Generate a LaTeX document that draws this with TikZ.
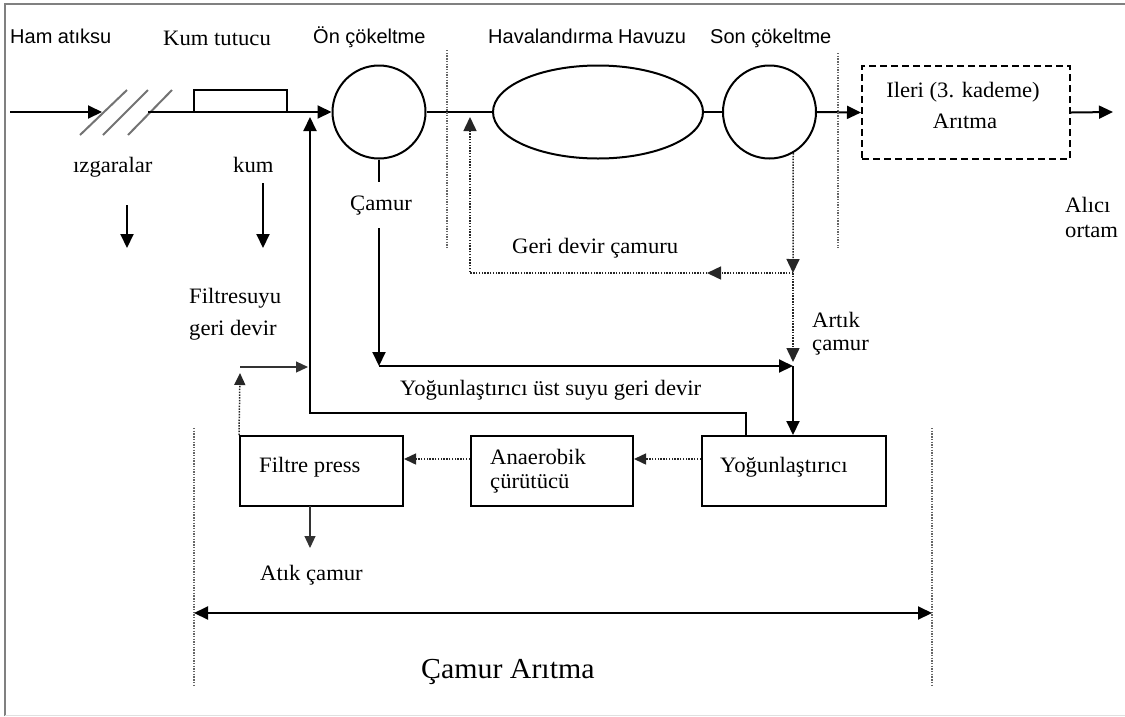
\documentclass[tikz,border=0pt]{standalone}
\usepackage{fontspec}
\setmainfont[FakeStretch=1.03]{Liberation Serif}
\newfontfamily\labsans{Liberation Sans}
\usetikzlibrary{arrows.meta,shapes.geometric}

\begin{document}
\begin{tikzpicture}[x=1pt,y=-1pt,
  flow/.style={draw=black, line width=2pt},
  tip/.style={-{Triangle[length=14pt,width=13pt]}},
  smalltip/.style={-{Triangle[length=12pt,width=11pt]}},
  dots/.style={draw=black!85, line width=1.5pt, dash pattern=on 1.5pt off 1.3pt},
  sep/.style={draw=black!60, line width=1.4pt, dash pattern=on 1.4pt off 1.3pt},
  fine/.style={draw=black!80, line width=1.2pt},
  unit/.style={draw, line width=2pt, inner sep=0pt},
  lbl/.style={inner sep=0pt, anchor=base west, font=\fontsize{22}{26}\selectfont},
  slbl/.style={inner sep=0pt, anchor=base west, font=\labsans\fontsize{20}{24}\selectfont},
]
\useasboundingbox (0,0) rectangle (1125,716);

% outer frame
\draw[black!50, line width=2pt] (5,716) -- (5,4) -- (1125,4);
\draw[black!12, line width=1pt] (5,715) -- (1125,715);

% process units on the main line
\node[unit, minimum width=93pt, minimum height=22pt] (kum) at (240.5,101) {};
\node[unit, circle, minimum size=93pt] (onc) at (379,112) {};
\node[unit, ellipse, minimum width=210pt, minimum height=93pt] (hav) at (598,112) {};
\node[unit, circle, minimum size=93pt] (sonc) at (769.5,112) {};
\node[unit, dash pattern=on 7pt off 4pt, minimum width=208pt, minimum height=93pt] (ileri) at (966,112.5) {};

% sludge line units
\node[unit, minimum width=163pt, minimum height=70pt] (fil) at (321.5,471) {};
\node[unit, minimum width=162pt, minimum height=70pt] (ana) at (552,471) {};
\node[unit, minimum width=184pt, minimum height=70pt] (yog) at (794,471) {};

% labels
\node[slbl] (tham) at (10,43) {Ham atıksu};
\node[lbl] (tkum) at (163,45) {Kum tutucu};
\node[slbl] (tonc) at (313,43) {Ön çökeltme};
\node[slbl] (thav) at (488,43) {Havalandırma Havuzu};
\node[slbl] (tsonc) at (710,43) {Son çökeltme};
\node[lbl, anchor=base] (tileri) at (963,97) {Ileri (3. kademe)};
\node[lbl, anchor=base] (tarit) at (965,128) {Arıtma};
\node[lbl] (tizg) at (73,172) {ızgaralar};
\node[lbl] (tkumk) at (233,172) {kum};
\node[lbl] (tcam) at (350,210) {Çamur};
\node[lbl] (tgeri) at (512,253) {Geri devir çamuru};
\node[lbl] (talici) at (1065,212) {Alıcı};
\node[lbl] (tortam) at (1065,237) {ortam};
\node[lbl] (tfsu1) at (189,303) {Filtresuyu};
\node[lbl] (tfsu2) at (189,335) {geri devir};
\node[lbl] (tart1) at (812,327) {Artık};
\node[lbl] (tart2) at (812,350) {çamur};
\node[lbl] (tust) at (400,395) {Yoğunlaştırıcı üst suyu geri devir};
\node[lbl] (tfil) at (259,472) {Filtre press};
\node[lbl] (tana1) at (490,464) {Anaerobik};
\node[lbl] (tana2) at (490,488) {çürütücü};
\node[lbl] (tyog) at (720,472) {Yoğunlaştırıcı};
\node[lbl] (tatik) at (260,580) {Atık çamur};
\node[lbl, font=\fontsize{29}{33}\selectfont] (tcarit) at (421,678) {Çamur Arıtma};

% screens (bar racks)
\coordinate (g1a) at (80,135);  \coordinate (g1b) at (127,90);
\coordinate (g2a) at (103,135); \coordinate (g2b) at (148,90);
\coordinate (g3a) at (128,135); \coordinate (g3b) at (172,90);
\draw[black!55, line width=2pt] (g1a) -- (g1b) (g2a) -- (g2b) (g3a) -- (g3b);

% main water line
\coordinate (src) at (10,112);
\coordinate (grin) at (102,112);
\coordinate (grout) at (148,112);
\coordinate (sink) at (1113,112);
\draw[flow, tip] (src) -- (grin);
\draw[flow, tip] (grout) -- (onc.west);
\draw[flow] (onc.east) -- (hav.west);
\draw[flow] (hav.east) -- (sonc.west);
\draw[flow, tip] (sonc.east) -- (ileri.west);
\draw[flow, tip] (ileri.east) -- (sink);

% screenings and grit removal
\coordinate (izg0) at (127,205); \coordinate (izg1) at (127,248);
\coordinate (kum0) at (263,183); \coordinate (kum1) at (263,248);
\draw[flow, tip] (izg0) -- (izg1);
\draw[flow, tip] (kum0) -- (kum1);

% zone separators
\coordinate (s1a) at (447,50);  \coordinate (s1b) at (447,248);
\coordinate (s2a) at (838,53);  \coordinate (s2b) at (838,248);
\coordinate (s3a) at (194,428); \coordinate (s3b) at (194,687);
\coordinate (s4a) at (932,428); \coordinate (s4b) at (932,687);
\draw[sep] (s1a) -- (s1b) (s2a) -- (s2b) (s3a) -- (s3b) (s4a) -- (s4b);

% primary sludge
\coordinate (c0) at (379,182);
\coordinate (c1) at (379,228);
\coordinate (c2) at (379,366);
\coordinate (jn) at (793,366);
\draw[flow] (onc.south) -- (c0);
\draw[flow, tip] (c1) -- (c2);
\draw[flow, tip] (c2) -- (jn);
\draw[flow, tip] (jn) -- (yog.north -| jn);

% return and waste activated sludge
\coordinate (rsj) at (793,273);
\coordinate (rmid) at (707,273);
\coordinate (rc) at (470,273);
\coordinate (rtop) at (470,117);
\coordinate (was) at (793,362);
\draw[dots, tip] (sonc.-60) -- (rsj);
\draw[dots, tip] (rsj) -- (rmid);
\draw[dots, tip] (rmid) -- (rc) -- (rtop);
\draw[dots, tip] (rsj) -- (was);

% thickener supernatant recycle
\coordinate (u0) at (746,436);
\coordinate (u1) at (310,413);
\coordinate (u2) at (310,117);
\draw[flow, tip] (u0) |- (u1) -- (u2);

% filtrate recycle
\coordinate (f1) at (240,373);
\coordinate (f2) at (240,367);
\coordinate (f3) at (308,367);
\draw[dots, smalltip] (fil.north west) -- (f1);
\draw[fine, smalltip] (f2) -- (f3);

% sludge treatment train
\draw[dots, smalltip] ([yshift=12pt]yog.west) -- ([yshift=12pt]ana.east);
\draw[dots, smalltip] ([yshift=12pt]ana.west) -- ([yshift=12pt]fil.east);
\coordinate (fp0) at (310,506);
\coordinate (fp1) at (310,548);
\draw[fine, smalltip] (fp0) -- (fp1);

% extent of sludge treatment
\coordinate (b0) at (194,613);
\coordinate (b1) at (932,613);
\draw[flow, {Triangle[length=14pt,width=13pt]}-{Triangle[length=14pt,width=13pt]}] (b0) -- (b1);
\end{tikzpicture}
\end{document}
